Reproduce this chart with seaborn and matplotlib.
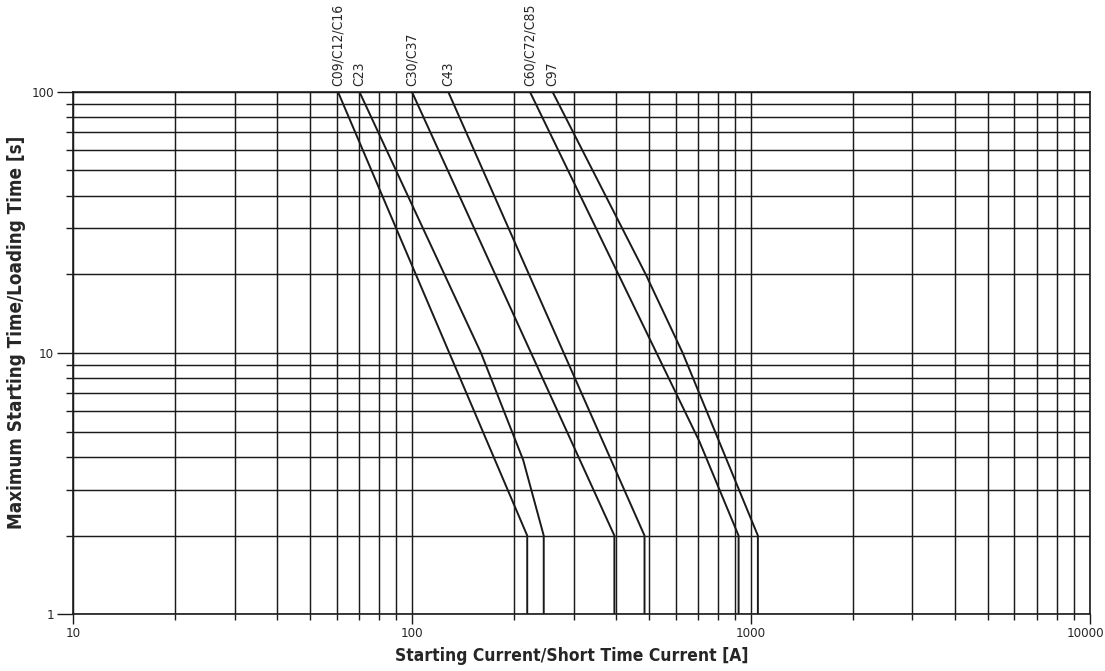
import matplotlib
matplotlib.use('Agg')
import matplotlib.pyplot as plt
import matplotlib.transforms as mtransforms
import seaborn as sns
import pandas as pd
from matplotlib.ticker import LogLocator, NullFormatter, FixedLocator, FixedFormatter

# curve data (current [A], time [s])
curve_labels = ['C09/C12/C16', 'C23', 'C30/C37', 'C43', 'C60/C72/C85', 'C97']
curve_current = [
    [60.5, 219, 219],
    [70, 160, 213, 245, 245],
    [100, 396, 396],
    [128, 486, 486],
    [223, 705, 921, 921],
    [260, 490, 630, 1050, 1050],
]
curve_time = [
    [100, 2, 1],
    [100, 10, 3.9, 2, 1],
    [100, 2, 1],
    [100, 2, 1],
    [100, 4.6, 2, 1],
    [100, 20, 10, 2, 1],
]
x_ticks = [10, 100, 1000, 10000]
y_ticks = [1, 10, 100]

rows = []
for lab, xs, ys in zip(curve_labels, curve_current, curve_time):
    for i, (x, y) in enumerate(zip(xs, ys)):
        rows.append({'curve': lab, 'order': i, 'current': x, 'time': y})
df = pd.DataFrame(rows)

sns.set_style('white')
plt.rcParams['font.family'] = ['DejaVu Sans']
plt.rcParams['font.stretch'] = 'condensed'

fig = plt.figure(figsize=(11.05, 6.71), dpi=100)
ax = fig.add_axes([0.0661, 0.0845, 0.9199, 0.7788])

ax.set_xscale('log')
ax.set_yscale('log')
ax.set_xlim(10, 10000)
ax.set_ylim(1, 100)

# grid lines (major + minor, all black)
ax.xaxis.set_major_locator(FixedLocator(x_ticks))
ax.xaxis.set_major_formatter(FixedFormatter([str(t) for t in x_ticks]))
ax.yaxis.set_major_locator(FixedLocator(y_ticks))
ax.yaxis.set_major_formatter(FixedFormatter([str(t) for t in y_ticks]))
ax.xaxis.set_minor_locator(LogLocator(base=10, subs=range(2, 10)))
ax.yaxis.set_minor_locator(LogLocator(base=10, subs=range(2, 10)))
ax.xaxis.set_minor_formatter(NullFormatter())
ax.yaxis.set_minor_formatter(NullFormatter())
ax.grid(True, which='both', color='#1a1a1a', linewidth=1.05)
ax.set_axisbelow(True)

sns.lineplot(data=df, x='current', y='time', units='curve', estimator=None,
             sort=False, color='#1a1a1a', linewidth=1.4, ax=ax, legend=False)

for lab, xs in zip(curve_labels, curve_current):
    ax.annotate(lab, xy=(xs[0], 100), xytext=(0, 4), textcoords='offset points',
                rotation=90, ha='center', va='bottom', fontsize=10)

for s in ax.spines.values():
    s.set_color('#1a1a1a')
    s.set_linewidth(1.2)

ax.tick_params(axis='y', which='major', direction='out', length=11.5, width=1,
               color='#1a1a1a', left=True, labelsize=9.5, pad=2)
ax.tick_params(axis='y', which='minor', direction='out', length=5, width=1,
               color='#1a1a1a', left=True)
ax.tick_params(axis='x', which='major', direction='out', length=7, width=1,
               color='#1a1a1a', bottom=True, labelsize=9.5, pad=2)
ax.tick_params(axis='x', which='minor', direction='out', length=4.5, width=1,
               color='#1a1a1a', bottom=True)

# keep the last x tick label inside the figure
last = ax.get_xticklabels()[-1]
last.set_transform(last.get_transform() +
                   mtransforms.ScaledTranslation(-3 / 72, 0, fig.dpi_scale_trans))

ax.set_xlabel('Starting Current/Short Time Current [A]', fontsize=12.5, fontweight='bold')
ax.set_ylabel('Maximum Starting Time/Loading Time [s]', fontsize=13.5, fontweight='bold')
ax.xaxis.set_label_coords(0.491, -0.062)
ax.yaxis.set_label_coords(-0.046, 0.54)

fig.savefig('out.png', dpi=100)
